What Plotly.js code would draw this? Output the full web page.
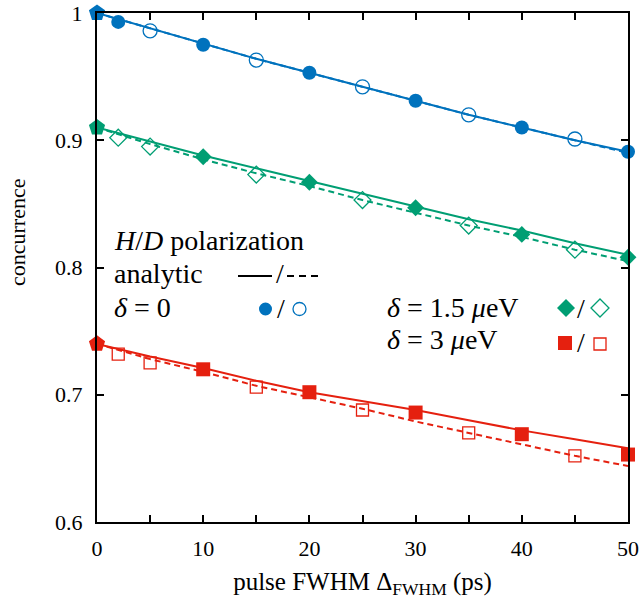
<!DOCTYPE html>
<html>
<head>
<meta charset="utf-8">
<script src="https://cdn.plot.ly/plotly-3.0.1.min.js"></script>
<style>html,body{margin:0;padding:0;background:#fff;}#plot{width:639px;height:599px;}</style>
</head>
<body>
<div id="plot"></div>
<script>
// ---- data ----
const xLine = [0, 5, 10, 15, 20, 25, 30, 35, 40, 45, 50];
const blueSolid  = [1.000, 0.988, 0.976, 0.964, 0.953, 0.942, 0.931, 0.920, 0.910, 0.900, 0.891];
const blueDashed = [1.000, 0.988, 0.976, 0.964, 0.953, 0.942, 0.931, 0.920, 0.910, 0.900, 0.890];
const greenSolid  = [0.910, 0.899, 0.888, 0.878, 0.868, 0.858, 0.848, 0.838, 0.829, 0.819, 0.810];
const greenDashed = [0.910, 0.897, 0.885, 0.874, 0.864, 0.853, 0.843, 0.833, 0.824, 0.814, 0.805];
const redSolid  = [0.740, 0.730, 0.721, 0.711, 0.702, 0.695, 0.688, 0.680, 0.672, 0.665, 0.658];
const redDashed = [0.740, 0.728, 0.718, 0.707, 0.698, 0.689, 0.679, 0.670, 0.661, 0.652, 0.644];

const xFilled = [0, 2, 10, 20, 30, 40, 50];
const xFilledG = [0, 10, 20, 30, 40, 50];
const xOpen = [5, 15, 25, 35, 45];
const xOpenG = [2, 5, 15, 25, 35, 45];

const blueFilled = [1.000, 0.993, 0.975, 0.953, 0.931, 0.910, 0.891];
const blueOpen   = [0.986, 0.963, 0.942, 0.920, 0.901];
const greenFilled = [0.910, 0.887, 0.867, 0.847, 0.826, 0.808];
const greenOpen   = [0.902, 0.895, 0.873, 0.853, 0.833, 0.814];
const redFilled = [0.740, 0.720, 0.702, 0.686, 0.669, 0.653];
const redOpen   = [0.732, 0.725, 0.706, 0.688, 0.670, 0.652];

const yTicks = [0.6, 0.7, 0.8, 0.9, 1.0];
const yTickText = ['0.6', '0.7', '0.8', '0.9', '1'];

// ---- styles ----
const BLUE = '#0072bd', GREEN = '#009e73', RED = '#e5200f';
const FONT = 'Liberation Serif, Times New Roman, serif';

function line(x, y, c, dash) {
  return {x, y, type: 'scatter', mode: 'lines', cliponaxis: false, showlegend: false,
    line: {color: c, width: 2, dash: dash ? '6px,4px' : 'solid'}, hoverinfo: 'skip'};
}
function pts(x, y, c, sym, size, open) {
  return {x, y, type: 'scatter', mode: 'markers', cliponaxis: false, showlegend: false,
    marker: {color: c, symbol: sym, size: size, opacity: 1,
      line: {color: c, width: open ? 1.3 : 0}}};
}
const penta = (n, s) => ['pentagon'].concat(Array(n - 1).fill(s));
const sizes = (n, s) => [17].concat(Array(n - 1).fill(s));

const traces = [
  line(xLine, blueDashed, BLUE, true),
  line(xLine, blueSolid, BLUE, false),
  line(xLine, greenDashed, GREEN, true),
  line(xLine, greenSolid, GREEN, false),
  line(xLine, redDashed, RED, true),
  line(xLine, redSolid, RED, false),
  pts(xOpen, blueOpen, BLUE, 'circle-open', 14, true),
  pts(xOpenG, greenOpen, GREEN, 'diamond-open', 13, true),
  pts(xOpenG, redOpen, RED, 'square-open', 12, true),
  pts(xFilled, blueFilled, BLUE, penta(xFilled.length, 'circle'), sizes(xFilled.length, 14), false),
  pts(xFilledG, greenFilled, GREEN, penta(xFilledG.length, 'diamond'), sizes(xFilledG.length, 13), false),
  pts(xFilledG, redFilled, RED, penta(xFilledG.length, 'square'), sizes(xFilledG.length, 14), false)
];

// plot-area pixel helpers for legend placement
const L = 97, R = 628, T = 13, B = 522;
const px = x => (x - L) / (R - L);
const py = y => (B - y) / (B - T);

function txt(text, x, y, anchor, size, angle) {
  return {text, x: px(x), y: py(y), xref: 'paper', yref: 'paper', showarrow: false,
    xanchor: anchor || 'left', yanchor: 'middle', textangle: angle || 0,
    font: {family: FONT, size: size || 28, color: '#000'}};
}
const annotations = [
  txt('<i>H</i>/<i>D</i> polarization', 112, 240),
  txt('analytic', 112, 273),
  txt('<i>δ</i> = 0', 112, 307),
  txt('/', 280, 273, 'center'),
  txt('/', 281, 308, 'center'),
  txt('<i>δ</i> = 1.5 <i>μ</i>eV', 385, 307),
  txt('<i>δ</i> = 3 <i>μ</i>eV', 385, 340),
  txt('/', 581, 308, 'center'),
  txt('/', 581, 342, 'center'),
  txt('concurrence', 17, 233, 'center', 22, -90)
];
function circ(cx, cy, r, c, open) {
  return {type: 'circle', xref: 'paper', yref: 'paper', x0: px(cx - r), x1: px(cx + r), y0: py(cy + r), y1: py(cy - r),
    line: {color: c, width: open ? 1.3 : 0}, fillcolor: open ? 'rgba(0,0,0,0)' : c};
}
function rect(cx, cy, h, c, open) {
  return {type: 'rect', xref: 'paper', yref: 'paper', x0: px(cx - h), x1: px(cx + h), y0: py(cy + h), y1: py(cy - h),
    line: {color: c, width: open ? 1.3 : 0}, fillcolor: open ? 'rgba(0,0,0,0)' : c};
}
function diam(cx, cy, h, c, open) {
  const p = `M${px(cx - h)},${py(cy)} L${px(cx)},${py(cy - h)} L${px(cx + h)},${py(cy)} L${px(cx)},${py(cy + h)} Z`;
  return {type: 'path', xref: 'paper', yref: 'paper', path: p,
    line: {color: c, width: open ? 1.3 : 0}, fillcolor: open ? 'rgba(0,0,0,0)' : c};
}
function seg(x0, x1, y, dash) {
  return {type: 'line', xref: 'paper', yref: 'paper', x0: px(x0), x1: px(x1), y0: py(y), y1: py(y),
    line: {color: '#000', width: 2, dash: dash ? '7px,5px' : 'solid'}};
}
const shapes = [
  seg(238, 272, 276, false),
  seg(287, 322, 276, true),
  circ(265.5, 309, 6.5, BLUE, false),
  circ(299.5, 309, 6.5, BLUE, true),
  diam(566, 308, 9, GREEN, false),
  diam(600, 308, 9, GREEN, true),
  rect(565, 343, 7, RED, false),
  rect(600, 344, 6, RED, true)
];

const axisCommon = {
  showgrid: false, zeroline: false, showline: true, linecolor: '#000', linewidth: 2,
  mirror: 'ticks', ticks: 'inside', ticklen: 7, tickwidth: 2, tickcolor: '#000',
  tickfont: {family: FONT, size: 22, color: '#000'}
};

const layout = {
  width: 639, height: 599,
  margin: {l: L, r: 639 - R, t: T, b: 599 - B},
  paper_bgcolor: '#fff', plot_bgcolor: '#fff',
  showlegend: false,
  xaxis: Object.assign({}, axisCommon, {
    range: [0, 50], tickmode: 'linear', tick0: 0, dtick: 10,
    minor: {dtick: 5, tick0: 0, ticks: 'inside', ticklen: 7, tickwidth: 2, tickcolor: '#000', showgrid: false},
    ticklabelstandoff: 6,
    title: {text: 'pulse FWHM Δ<sub>FWHM</sub> (ps)', font: {family: FONT, size: 25, color: '#000'}, standoff: 12}
  }),
  yaxis: Object.assign({}, axisCommon, {
    range: [0.6, 1.0], tickmode: 'array', tickvals: yTicks, ticktext: yTickText,
    ticklabelstandoff: 8
  }),
  annotations, shapes
};

Plotly.newPlot('plot', traces, layout, {staticPlot: true, displayModeBar: false});
</script>
</body>
</html>
